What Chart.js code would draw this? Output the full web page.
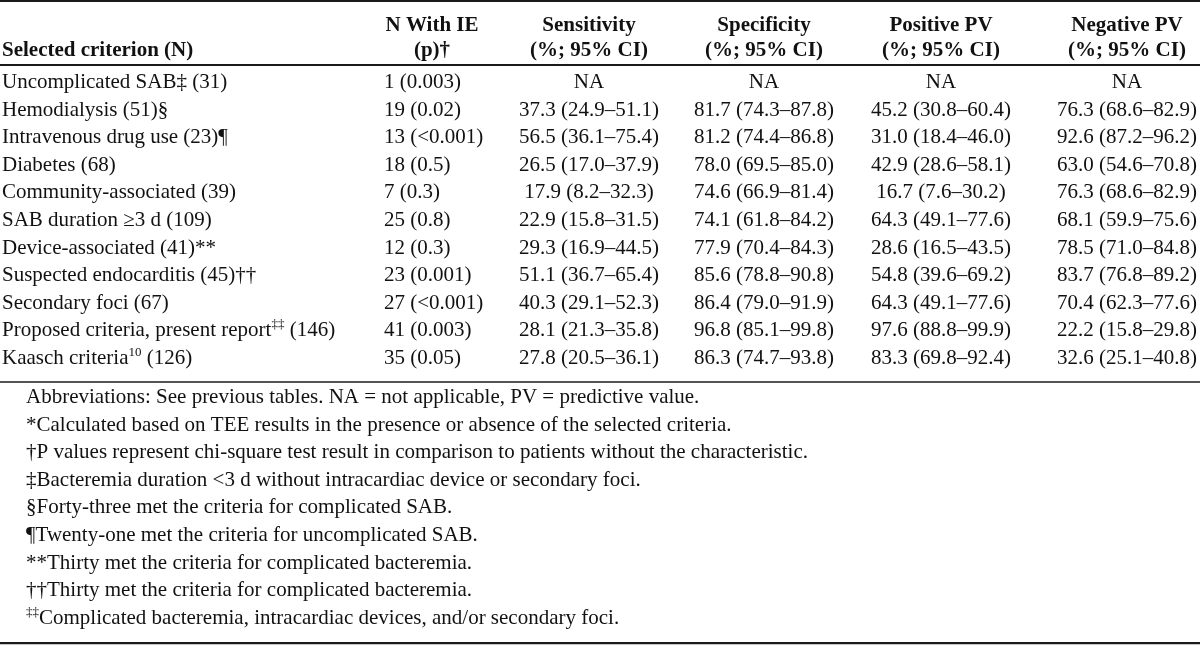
<!DOCTYPE html>
<html>
<head>
<meta charset="utf-8">
<script src="https://cdn.jsdelivr.net/npm/chart.js@4.4.1/dist/chart.umd.min.js"></script>
<style>
html,body{margin:0;padding:0;background:#fff;}
#wrap{width:1200px;height:645px;position:relative;}
</style>
</head>
<body>
<div id="wrap"><canvas id="c"></canvas></div>
<script>
// ---- data ----
const headerTop = ['', 'N With IE', 'Sensitivity', 'Specificity', 'Positive PV', 'Negative PV'];
const headerBottom = ['Selected criterion (N)', '(p)†', '(%; 95% CI)', '(%; 95% CI)', '(%; 95% CI)', '(%; 95% CI)'];
const criteria = ['Uncomplicated SAB‡ (31)', 'Hemodialysis (51)§', 'Intravenous drug use (23)¶', 'Diabetes (68)',
  'Community-associated (39)', 'SAB duration ≥3 d (109)', 'Device-associated (41)**', 'Suspected endocarditis (45)††',
  'Secondary foci (67)', 'Proposed criteria, present report^{‡‡} (146)', 'Kaasch criteria^{10} (126)'];
const nWithIE = ['1 (0.003)', '19 (0.02)', '13 (<0.001)', '18 (0.5)', '7 (0.3)', '25 (0.8)', '12 (0.3)',
  '23 (0.001)', '27 (<0.001)', '41 (0.003)', '35 (0.05)'];
const sensitivity = ['NA', '37.3 (24.9–51.1)', '56.5 (36.1–75.4)', '26.5 (17.0–37.9)', '17.9 (8.2–32.3)',
  '22.9 (15.8–31.5)', '29.3 (16.9–44.5)', '51.1 (36.7–65.4)', '40.3 (29.1–52.3)', '28.1 (21.3–35.8)', '27.8 (20.5–36.1)'];
const specificity = ['NA', '81.7 (74.3–87.8)', '81.2 (74.4–86.8)', '78.0 (69.5–85.0)', '74.6 (66.9–81.4)',
  '74.1 (61.8–84.2)', '77.9 (70.4–84.3)', '85.6 (78.8–90.8)', '86.4 (79.0–91.9)', '96.8 (85.1–99.8)', '86.3 (74.7–93.8)'];
const positivePV = ['NA', '45.2 (30.8–60.4)', '31.0 (18.4–46.0)', '42.9 (28.6–58.1)', '16.7 (7.6–30.2)',
  '64.3 (49.1–77.6)', '28.6 (16.5–43.5)', '54.8 (39.6–69.2)', '64.3 (49.1–77.6)', '97.6 (88.8–99.9)', '83.3 (69.8–92.4)'];
const negativePV = ['NA', '76.3 (68.6–82.9)', '92.6 (87.2–96.2)', '63.0 (54.6–70.8)', '76.3 (68.6–82.9)',
  '68.1 (59.9–75.6)', '78.5 (71.0–84.8)', '83.7 (76.8–89.2)', '70.4 (62.3–77.6)', '22.2 (15.8–29.8)', '32.6 (25.1–40.8)'];
const footnotes = [
  'Abbreviations: See previous tables. NA = not applicable, PV = predictive value.',
  '*Calculated based on TEE results in the presence or absence of the selected criteria.',
  '†P values represent chi-square test result in comparison to patients without the characteristic.',
  '‡Bacteremia duration <3 d without intracardiac device or secondary foci.',
  '§Forty-three met the criteria for complicated SAB.',
  '¶Twenty-one met the criteria for uncomplicated SAB.',
  '**Thirty met the criteria for complicated bacteremia.',
  '††Thirty met the criteria for complicated bacteremia.',
  '^{‡‡}Complicated bacteremia, intracardiac devices, and/or secondary foci.'
];

// ---- layout (positions / styles) ----
const columns = [criteria, nWithIE, sensitivity, specificity, positivePV, negativePV];
const colAnchor = [2, 384, 589, 764, 941, 1127];
const colAlign = ['left', 'left', 'center', 'center', 'center', 'center'];
const headAlign = ['left', 'center', 'center', 'center', 'center', 'center'];
const headAnchor = [2, 432, 589, 764, 941, 1127];
const FONT = '"Liberation Serif", "Times New Roman", serif';
const FS = 21;
const SX = 1.0;
const Y_MIN = -3.188, Y_MAX = 20.181;
const HEAD1 = -2.065, HEAD2 = -1.159;
const FOOT0 = 11.413;
const rules = [{y: -3.15, w: 2}, {y: -0.833, w: 2}, {y: 10.652, w: 1.5}, {y: 20.11, w: 2.2}];

function drawRich(ctx, str, x, y, align, bold) {
  const parts = [];
  const re = /\^\{([^}]*)\}/g;
  let last = 0, m;
  while ((m = re.exec(str))) {
    if (m.index > last) parts.push({t: str.slice(last, m.index), sup: false});
    parts.push({t: m[1], sup: true});
    last = re.lastIndex;
  }
  if (last < str.length) parts.push({t: str.slice(last), sup: false});
  const fN = (bold ? 'bold ' : '') + FS + 'px ' + FONT;
  const fS = (bold ? 'bold ' : '') + Math.round(FS * 0.62) + 'px ' + FONT;
  let total = 0;
  parts.forEach(p => { ctx.font = p.sup ? fS : fN; p.w = ctx.measureText(p.t).width; total += p.w; });
  let cx = 0;
  if (align === 'center') cx = -total / 2; else if (align === 'right') cx = -total;
  ctx.save();
  ctx.translate(x, y);
  ctx.scale(SX, 1);
  ctx.textAlign = 'left';
  ctx.textBaseline = 'alphabetic';
  parts.forEach(p => {
    ctx.font = p.sup ? fS : fN;
    ctx.fillText(p.t, cx, p.sup ? -FS * 0.38 : 0);
    cx += p.w;
  });
  ctx.restore();
}

const tablePlugin = {
  id: 'tableText',
  afterDatasetsDraw(chart) {
    const ctx = chart.ctx;
    const xs = chart.scales.x, ys = chart.scales.y;
    ctx.save();
    ctx.fillStyle = '#111';
    ctx.strokeStyle = '#1a1a1a';
    rules.forEach(r => {
      const py = ys.getPixelForValue(r.y);
      ctx.lineWidth = r.w;
      ctx.beginPath();
      ctx.moveTo(xs.left, py); ctx.lineTo(xs.right, py); ctx.stroke();
    });
    headerTop.forEach((h, i) => {
      if (h) drawRich(ctx, h, xs.getPixelForValue(headAnchor[i]), ys.getPixelForValue(HEAD1), headAlign[i], true);
    });
    headerBottom.forEach((h, i) => {
      drawRich(ctx, h, xs.getPixelForValue(headAnchor[i]), ys.getPixelForValue(HEAD2), headAlign[i], true);
    });
    chart.data.datasets.forEach((ds, di) => {
      const meta = chart.getDatasetMeta(di);
      meta.data.forEach((el, ri) => {
        drawRich(ctx, columns[di][ri], el.x, el.y, colAlign[di], false);
      });
    });
    footnotes.forEach((f, i) => {
      drawRich(ctx, f, xs.getPixelForValue(26), ys.getPixelForValue(FOOT0 + i), 'left', false);
    });
    ctx.restore();
  }
};

new Chart(document.getElementById('c'), {
  type: 'scatter',
  data: {
    datasets: columns.map((col, ci) => ({
      label: ci === 0 ? 'Selected criterion (N)' : headerTop[ci],
      data: col.map((v, ri) => ({x: colAnchor[ci], y: ri})),
      pointRadius: 0,
      pointHoverRadius: 0
    }))
  },
  options: {
    responsive: true,
    maintainAspectRatio: false,
    animation: false,
    layout: {padding: 0},
    plugins: {legend: {display: false}, tooltip: {enabled: false}},
    events: [],
    scales: {
      x: {type: 'linear', min: 0, max: 1200, display: false},
      y: {type: 'linear', min: Y_MIN, max: Y_MAX, reverse: true, display: false}
    }
  },
  plugins: [tablePlugin]
});
</script>
</body>
</html>
